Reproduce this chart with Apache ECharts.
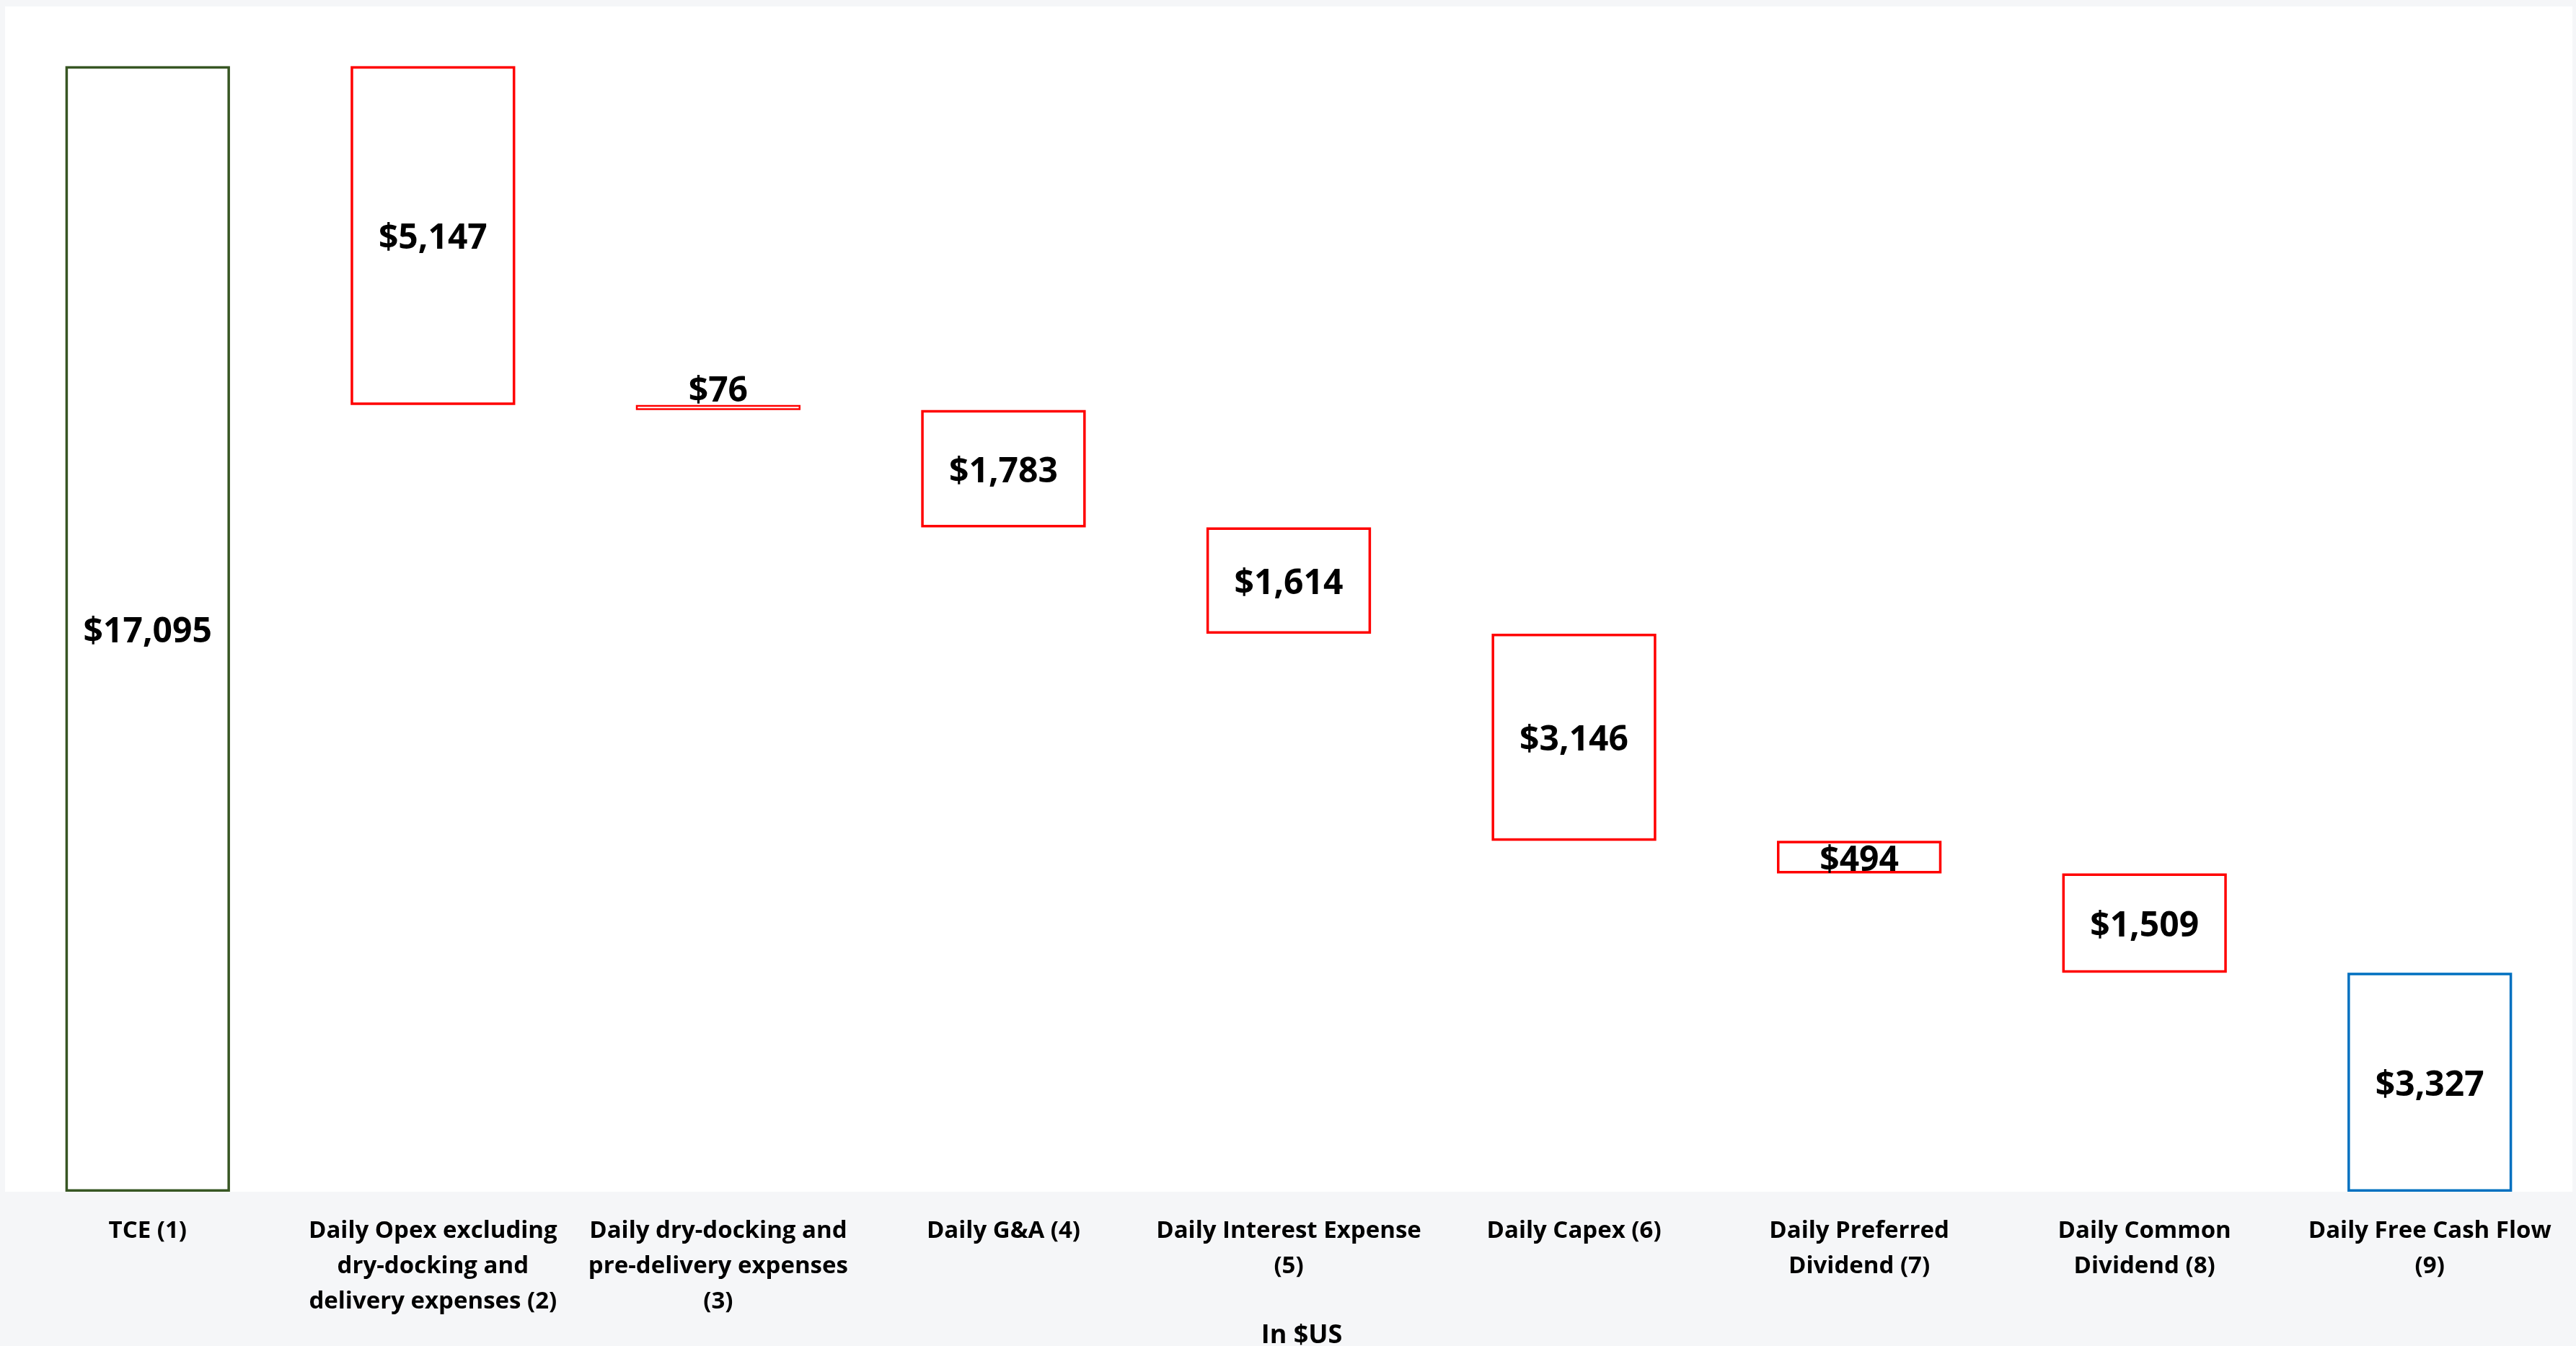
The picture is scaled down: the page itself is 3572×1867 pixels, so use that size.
<!DOCTYPE html>
<html>
<head>
<meta charset="utf-8">
<script src="https://cdn.jsdelivr.net/npm/echarts@6/dist/echarts.min.js"></script>
<style>
  html, body { margin: 0; padding: 0; background: #f5f6f8; }
  #mychart { width: 3572px; height: 1867px; }
</style>
</head>
<body>
<div id="mychart"></div>
<script>
  // categories and amounts
  var categories = [
    'TCE (1)',
    'Daily Opex excluding\ndry-docking and\ndelivery expenses (2)',
    'Daily dry-docking and\npre-delivery expenses\n(3)',
    'Daily G&A (4)',
    'Daily Interest Expense\n(5)',
    'Daily Capex (6)',
    'Daily Preferred\nDividend (7)',
    'Daily Common\nDividend (8)',
    'Daily Free Cash Flow\n(9)'
  ]
  var amounts = [17095, 5147, 76, 1783, 1614, 3146, 494, 1509, 3327]
  var axisName = 'In $US'

  // invisible base for waterfall: first and last bars start at 0
  var bases = []
  var running = 0
  for (var i = 0; i < amounts.length; i++) {
    if (i === 0 || i === amounts.length - 1) {
      bases.push(0)
      running = amounts[i]
    } else {
      running = running - amounts[i]
      bases.push(running)
    }
  }

  function borderFor(i) {
    if (i === 0) return '#375623'
    if (i === amounts.length - 1) return '#0070c0'
    return '#ff0000'
  }

  var boxes = amounts.map(function (v, i) {
    var item = {
      value: v,
      itemStyle: { color: '#ffffff', borderColor: borderFor(i), borderWidth: 3.5 }
    }
    if (v < 200) {
      // thin box: label sits on top of it
      item.itemStyle.borderWidth = 2.5
      item.label = { position: 'top', distance: -6, offset: [0, 0] }
    }
    return item
  })

  var chart = echarts.init(document.getElementById('mychart'))
  chart.setOption({
    backgroundColor: '#f5f6f8',
    animation: false,
    grid: {
      left: 7,
      right: 5,
      top: 9,
      bottom: 214,
      outerBoundsMode: 'none',
      show: true,
      backgroundColor: '#ffffff',
      borderWidth: 0
    },
    xAxis: {
      type: 'category',
      data: categories,
      name: axisName,
      nameLocation: 'middle',
      nameGap: 175,
      nameTextStyle: {
        fontFamily: 'Open Sans',
        fontWeight: 'bold',
        fontSize: 36,
        color: '#000',
        padding: [0, 0, 0, 36]
      },
      axisLine: { show: false },
      axisTick: { show: false },
      axisLabel: {
        interval: 0,
        margin: 30,
        fontFamily: 'Open Sans',
        fontWeight: 'bold',
        fontSize: 33,
        lineHeight: 49,
        color: '#000',
        align: 'center'
      }
    },
    yAxis: {
      type: 'value',
      min: 0,
      max: 18000,
      show: false,
      splitLine: { show: false }
    },
    series: [
      {
        name: 'base',
        type: 'bar',
        stack: 'wf',
        barWidth: '57.7%',
        itemStyle: { color: 'transparent' },
        emphasis: { disabled: true },
        data: bases
      },
      {
        name: 'amount',
        type: 'bar',
        stack: 'wf',
        barWidth: '57.7%',
        label: {
          show: true,
          position: 'inside',
          offset: [0, 5],
          fontFamily: 'Open Sans',
          fontWeight: 'bold',
          fontSize: 48,
          color: '#000',
          formatter: function (p) {
            return '$' + p.value.toLocaleString('en-US')
          }
        },
        data: boxes
      }
    ]
  })
</script>
</body>
</html>
